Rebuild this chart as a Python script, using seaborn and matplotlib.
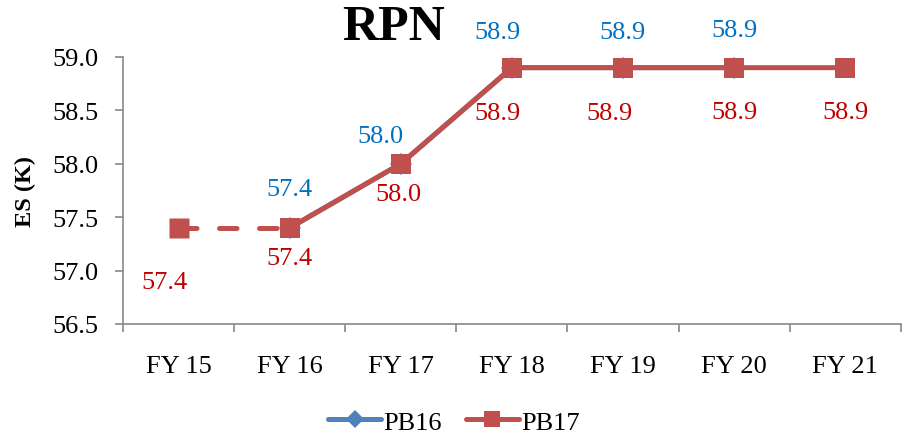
import matplotlib
matplotlib.use("Agg")
import matplotlib.pyplot as plt
from matplotlib.ticker import FixedLocator
import numpy as np
import pandas as pd
import seaborn as sns

# Data
years = ["FY 15", "FY 16", "FY 17", "FY 18", "FY 19", "FY 20", "FY 21"]
pb16 = [np.nan, 57.4, 58.0, 58.9, 58.9, 58.9, np.nan]
pb17 = [57.4, 57.4, 58.0, 58.9, 58.9, 58.9, 58.9]
y_ticks = [56.5, 57.0, 57.5, 58.0, 58.5, 59.0]

# label offsets in points (style only)
pb16_offsets = [None, (0, 28), (-15, 20), (-10, 26), (0, 26), (0, 27), None]
pb17_offsets = [(-10, -39), (0, -22), (-2, -22), (-10, -33), (-10, -33), (0, -32), (0, -32)]

RED_LINE = "#C0504D"
BLUE_LINE = "#4F81BD"
RED_TXT = "#C00000"
BLUE_TXT = "#0070C0"
FS = 19


def main():
    sns.set_style("white")
    plt.rcParams["font.family"] = ["Liberation Serif", "DejaVu Serif"]
    plt.rcParams["text.color"] = "black"
    plt.rcParams["xtick.labelcolor"] = "black"
    plt.rcParams["ytick.labelcolor"] = "black"

    fig = plt.figure(figsize=(9.08, 4.35), dpi=100)
    ax = fig.add_axes([0.1355, 0.2529, 0.8565, 0.6138])

    x = np.arange(len(years))
    df = pd.DataFrame({"x": x, "PB16": pb16, "PB17": pb17})

    # PB16 (sits underneath PB17)
    d16 = df.dropna(subset=["PB16"])
    sns.lineplot(data=d16, x="x", y="PB16", ax=ax, color=BLUE_LINE, lw=3.6,
                 marker="D", markersize=11, markeredgewidth=0, label="PB16")

    # PB17: dashed first segment, solid afterwards
    sns.lineplot(data=df.iloc[0:2], x="x", y="PB17", ax=ax, color=RED_LINE, lw=3.6,
                 linestyle=(0, (3.5, 4.5)), dash_capstyle="round", legend=False)
    sns.lineplot(data=df.iloc[1:], x="x", y="PB17", ax=ax, color=RED_LINE, lw=3.6,
                 marker="s", markersize=14, markeredgewidth=0, label="PB17")
    ax.plot(x[0], pb17[0], marker="s", markersize=14, color=RED_LINE, mec="none")

    # data labels
    for i, v in enumerate(pb16):
        if pb16_offsets[i] is not None and not np.isnan(v):
            ax.annotate(f"{v:.1f}", (x[i], v), xytext=pb16_offsets[i],
                        textcoords="offset points", ha="center", va="center",
                        fontsize=FS, color=BLUE_TXT, annotation_clip=False)
    for i, v in enumerate(pb17):
        ax.annotate(f"{v:.1f}", (x[i], v), xytext=pb17_offsets[i],
                    textcoords="offset points", ha="center", va="center",
                    fontsize=FS, color=RED_TXT, annotation_clip=False)

    # axes styling
    ax.set_xlim(-0.5, len(years) - 0.5)
    ax.set_ylim(56.5, 59.0)
    ax.set_yticks(y_ticks)
    ax.set_yticklabels([f"{t:.1f}" for t in y_ticks])
    ax.set_xticks(x)
    ax.set_xticklabels(years)
    ax.xaxis.set_minor_locator(FixedLocator(np.arange(-0.5, len(years), 1.0)))
    ax.tick_params(axis="x", which="major", length=0, pad=22, labelsize=FS)
    ax.tick_params(axis="x", which="minor", length=6, width=1.2, color="#888888",
                   direction="out", bottom=True)
    ax.tick_params(axis="y", length=6, width=1.2, color="#888888", direction="out",
                   left=True, labelsize=FS, pad=12)
    for s in ["top", "right"]:
        ax.spines[s].set_visible(False)
    for s in ["left", "bottom"]:
        ax.spines[s].set_color("#888888")
        ax.spines[s].set_linewidth(1.2)
    ax.set_xlabel("")
    ax.set_ylabel("")

    fig.text(0.028, 0.559, "ES (K)", rotation=90, ha="center", va="center",
             fontsize=17.5, fontweight="bold")
    fig.text(0.433, 0.936, "RPN", ha="center", va="center",
             fontsize=36, fontweight="bold")

    leg = ax.legend(loc="center", bbox_to_anchor=(0.5, 0.028), bbox_transform=fig.transFigure,
                    ncol=2, frameon=False, fontsize=FS, handlelength=2.0,
                    handletextpad=0.1, columnspacing=0.9)
    for line, ms in zip(leg.get_lines(), [9, 11]):
        line.set_linewidth(3.6)
        line.set_markersize(ms)

    fig.savefig("out.png", dpi=100)


if __name__ == "__main__":
    main()
